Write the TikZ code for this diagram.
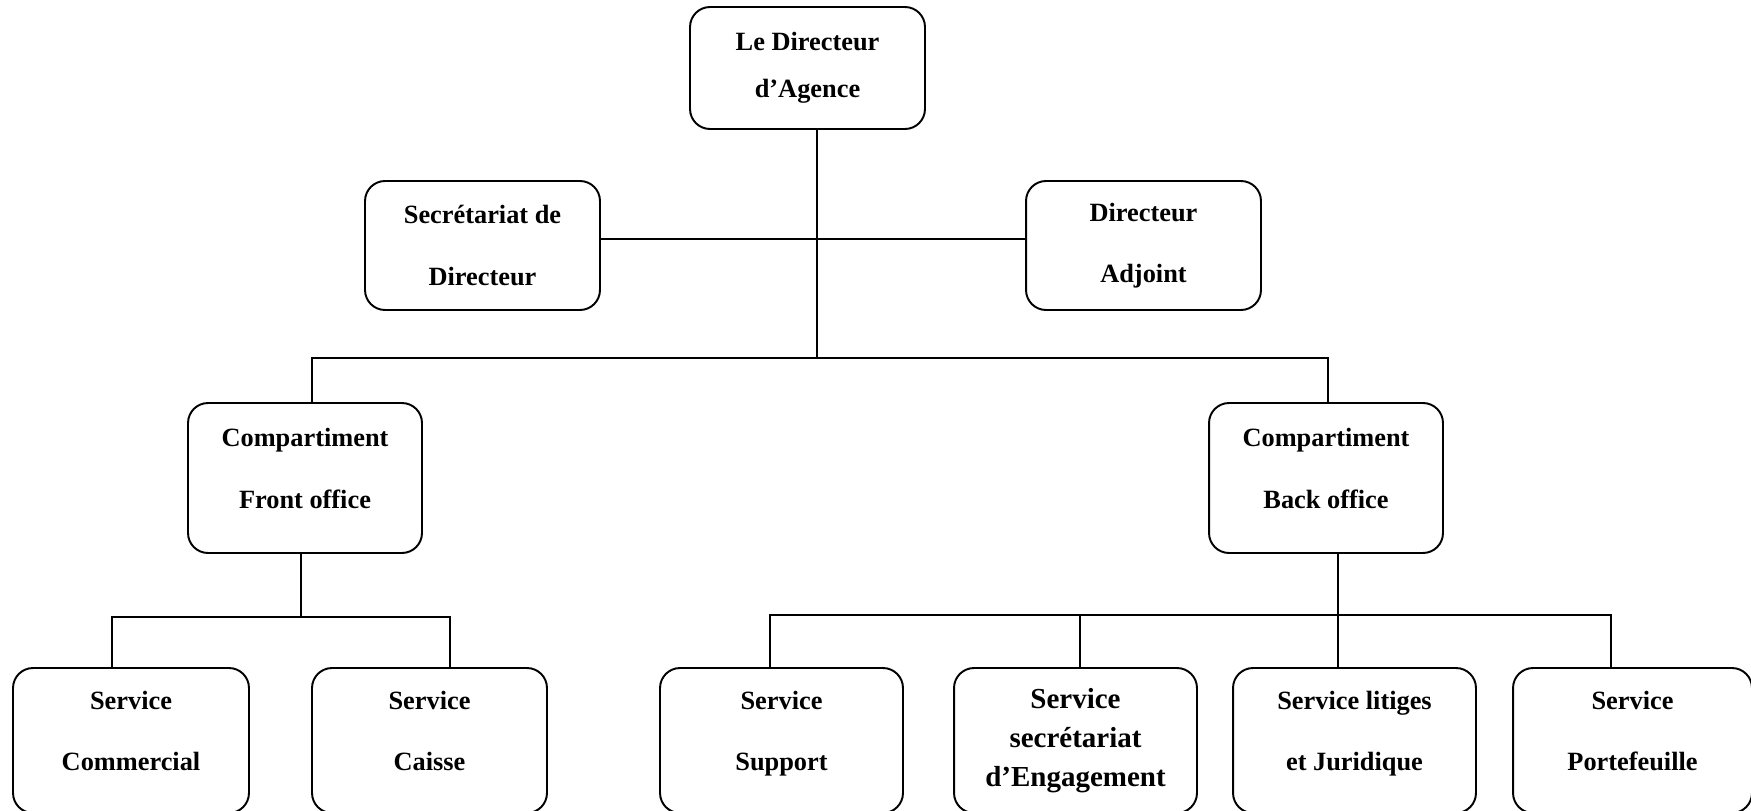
\documentclass[tikz,border=0pt]{standalone}
\usepackage{fontspec}
\setmainfont{Liberation Serif}
\usepackage{tikz}

\begin{document}
\begin{tikzpicture}[x=0.02cm,y=-0.02cm,
	box/.style={draw,line width=1.1pt,rounded corners=0.4cm,align=center,inner sep=0pt,
		font=\fontsize{15}{35}\selectfont\bfseries},
	lowbox/.style={box,text height=45.5pt,text depth=11.3pt},
	link/.style={line width=1pt}]
	\useasboundingbox (0,0) rectangle (1751,811);
	% direction
	\node[box,minimum width=4.7cm,minimum height=2.44cm,font=\fontsize{15}{26.5}\selectfont\bfseries] (dir) at (807.5,68) {Le Directeur\\d'Agence};
	\node[box,minimum width=4.7cm,minimum height=2.58cm] (sec) at (482.5,245.5) {Secrétariat de\\Directeur};
	\node[box,minimum width=4.7cm,minimum height=2.58cm] (adj) at (1143.5,245.5) {Directeur\\Adjoint};
	% compartiments
	\node[lowbox,minimum width=4.68cm,minimum height=3cm] (front) at (305,478) {Compartiment\\Front office};
	\node[lowbox,minimum width=4.68cm,minimum height=3cm] (back) at (1326,478) {Compartiment\\Back office};
	% services
	\node[lowbox,minimum width=4.72cm,minimum height=2.9cm] (com) at (131,740.5) {Service\\Commercial};
	\node[lowbox,minimum width=4.7cm,minimum height=2.9cm] (cai) at (429.5,740.5) {Service\\Caisse};
	\node[lowbox,minimum width=4.86cm,minimum height=2.9cm] (sup) at (781.5,740.5) {Service\\Support};
	\node[box,minimum width=4.86cm,minimum height=2.9cm,font=\fontsize{16.5}{22}\selectfont\bfseries] (eng) at (1075.5,740.5) {Service\\secrétariat\\d'Engagement};
	\node[lowbox,minimum width=4.86cm,minimum height=2.9cm] (lit) at (1354.5,740.5) {Service litiges\\et Juridique};
	\node[lowbox,minimum width=4.78cm,minimum height=2.9cm] (por) at (1632.5,740.5) {Service\\Portefeuille};

	\coordinate (jt) at (817,358);
	\coordinate (jf) at (312,358);
	\coordinate (jb) at (1328,358);
	\coordinate (fa) at (301,617);
	\coordinate (fl) at (112,617);
	\coordinate (fr) at (450,617);
	\coordinate (ba) at (1338,615);
	\coordinate (b1) at (770,615);
	\coordinate (b2) at (1080,615);
	\coordinate (b4) at (1611,615);

	\draw[link] (dir.south -| jt) -- (jt);
	\draw[link] ([yshift=0.13cm]sec.east) -- ([yshift=0.13cm]adj.west);
	\draw[link] (front.north -| jf) -- (jf) -- (jb) -- (back.north -| jb);
	\draw[link] (front.south -| fa) -- (fa);
	\draw[link] (com.north -| fl) -- (fl) -- (fr) -- (cai.north -| fr);
	\draw[link] (back.south -| ba) -- (lit.north -| ba);
	\draw[link] (sup.north -| b1) -- (b1) -- (b4) -- (por.north -| b4);
	\draw[link] (b2) -- (eng.north -| b2);
\end{tikzpicture}
\end{document}
